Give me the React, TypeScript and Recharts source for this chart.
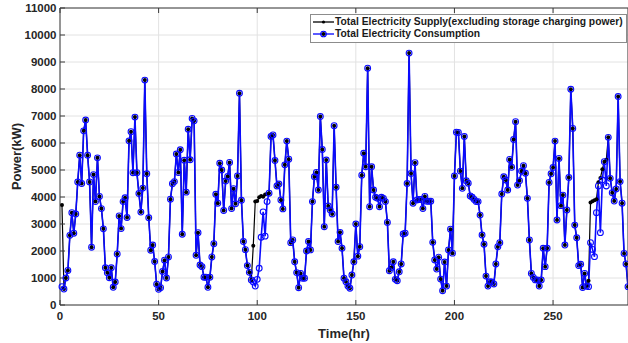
import { CartesianGrid, Line, LineChart, XAxis, YAxis } from 'recharts'

// hourly consumption, hour 1..288 (kW)
const consumption = [
  680, 590, 1000, 1280, 2580, 3420, 2660, 3370, 4560, 5550,
  4500, 6450, 6850, 5550, 4560, 2140, 4830, 3830, 5450, 4020,
  3570, 2820, 1380, 1190, 1010, 1380, 655, 850, 1890, 3300,
  2830, 3830, 3970, 3240, 6080, 6420, 4900, 6960, 4900, 4130,
  3440, 4330, 8330, 4860, 3230, 2030, 2220, 1610, 770, 580,
  640, 1240, 1660, 1000, 1780, 3920, 4490, 4570, 5590, 4910,
  5750, 2620, 5360, 4180, 6510, 5380, 6910, 6820, 1840, 2680,
  1480, 1420, 1030, 1030, 655, 1030, 1780, 2270, 4100, 3770,
  5250, 5000, 3500, 4590, 4760, 5280, 3570, 4310, 3750, 4780,
  7840, 3880, 2350, 2050, 1460, 1210, 930, 850, 700, 950,
  1360, 2510, 3450, 2550, 3830, 4140, 6240, 6300, 5350, 4410,
  4480, 3890, 3560, 5190, 6070, 5400, 2310, 2410, 1600, 1200,
  640, 1170, 990, 990, 2000, 2350, 2040, 3830, 4750, 4910,
  4260, 6980, 5760, 2900, 5370, 3670, 3520, 3370, 6640, 4360,
  2350, 2690, 2100, 990, 860, 700, 620, 1110, 1600, 3000,
  1810, 2160, 4810, 5620, 5120, 8770, 3640, 5120, 4260, 3990,
  3950, 3640, 3990, 3950, 3830, 3060, 1270, 1390, 1600, 950,
  900, 1230, 1520, 2630, 2660, 4500, 9330, 4870, 3770, 5270,
  3890, 3910, 3910, 3570, 4020, 3840, 3840, 3840, 2320, 1670,
  1330, 1770, 960, 530, 1590, 700, 2040, 2810, 1920, 4780,
  6400, 6390, 4960, 4320, 6240, 4600, 4510, 4040, 3990, 3910,
  3830, 3830, 3330, 2590, 2250, 1070, 700, 860, 850, 780,
  1520, 2160, 2310, 4110, 4750, 4630, 4260, 5390, 5100, 6130,
  6790, 4440, 4600, 4960, 5160, 4880, 3950, 2410, 1170, 1020,
  930, 930, 700, 930, 2100, 1420, 2100, 4540, 4860, 5090,
  6070, 3150, 5430, 3680, 4070, 2220, 3520, 4720, 7990, 6540,
  2960, 2490, 1460, 1510, 650, 1170, 700, 680, 2310, 2060,
  1790, 3420, 4410, 2680, 4630, 5310, 4410, 6210, 4690, 4160,
  3850, 4300, 7720, 4570, 3770, 1910, 1520, 680,
]

// hours where supply differs from consumption (storage charging)
const supplyOverrides: [number, number][] = [
  [1, 3700],
  [98, 2190], [99, 3830], [100, 3850], [101, 3990], [102, 4040],
  [103, 4010], [104, 4090], [105, 4110],
  [268, 900], [269, 3800], [270, 3840], [271, 3880], [272, 3920],
  [273, 4550], [274, 4700], [275, 5030], [277, 5380],
]

const xTicks = [0, 50, 100, 150, 200, 250]
const yTicks = [0, 1000, 2000, 3000, 4000, 5000, 6000, 7000, 8000, 9000, 10000, 11000]

const overrideMap = new Map(supplyOverrides)
const data = consumption.map((value, i) => ({
  hour: i + 1,
  consumption: value,
  supply: overrideMap.get(i + 1) ?? value,
}))

const font = '"Liberation Sans", Arial, sans-serif'
const axisColor = '#3a3a3a'
const tickStyle = { fontSize: 11.5, fontWeight: 700, fill: '#262626', fontFamily: font }
const titleStyle = { fontSize: 13, fontWeight: 700, fill: '#262626', fontFamily: font }
const blank = () => ''

function LegendSample({ color, hollow }: { color: string; hollow?: boolean }) {
  return (
    <svg width={21} height={10} style={{ display: 'block', marginRight: 1 }}>
      <line x1={0} y1={5} x2={21} y2={5} stroke={color} strokeWidth={1.3} />
      {hollow ? (
        <>
          <circle cx={10.5} cy={5} r={2} fill="#000" />
          <circle cx={10.5} cy={5} r={2.8} fill="none" stroke={color} strokeWidth={1.1} />
        </>
      ) : (
        <circle cx={10.5} cy={5} r={1.6} fill={color} />
      )}
    </svg>
  )
}

function ChartLegend() {
  const row = { display: 'flex', alignItems: 'center', height: 12 }
  return (
    <div
      style={{
        position: 'absolute',
        left: 310,
        top: 14,
        width: 313,
        height: 26,
        padding: '1px 0 0 2px',
        border: '1px solid #8c8c8c',
        background: '#fff',
        fontFamily: font,
        fontSize: 10.3,
        fontWeight: 700,
        color: '#1a1a1a',
        lineHeight: '12px',
        whiteSpace: 'nowrap',
      }}
    >
      <div style={row}>
        <LegendSample color="#000" />
        <span>Total Electricity Supply(excluding storage charging power)</span>
      </div>
      <div style={row}>
        <LegendSample color="#0000ff" hollow />
        <span>Total Electricity Consumption</span>
      </div>
    </div>
  )
}

export default function App() {
  return (
    <div style={{ position: 'absolute', left: 0, top: 0, width: 628, height: 343, background: '#fff' }}>
      <LineChart width={628} height={343} data={data} margin={{ top: 7, right: -1, bottom: 0, left: 0 }}>
        <CartesianGrid xAxisId="bottom" yAxisId="left" stroke="#e2e2e2" />
        <XAxis
          xAxisId="bottom"
          dataKey="hour"
          type="number"
          domain={[0, 288]}
          ticks={xTicks}
          height={38}
          tickSize={-5}
          tickMargin={12}
          stroke={axisColor}
          tick={tickStyle}
          label={{ value: 'Time(hr)', position: 'insideBottom', offset: 5, style: titleStyle }}
        />
        <XAxis
          xAxisId="top"
          orientation="top"
          dataKey="hour"
          type="number"
          domain={[0, 288]}
          ticks={xTicks}
          height={1}
          tickSize={-5}
          tickFormatter={blank}
          stroke={axisColor}
        />
        <YAxis
          yAxisId="left"
          domain={[0, 11000]}
          ticks={yTicks}
          width={60}
          tickSize={-5}
          tickMargin={8.5}
          stroke={axisColor}
          tick={tickStyle}
          label={{
            value: 'Power(kW)',
            angle: -90,
            position: 'insideLeft',
            offset: 16,
            style: { ...titleStyle, textAnchor: 'middle' },
          }}
        />
        <YAxis
          yAxisId="right"
          orientation="right"
          domain={[0, 11000]}
          ticks={yTicks}
          width={1}
          tickSize={-5}
          tickFormatter={blank}
          stroke={axisColor}
        />
        {/* supply first so the consumption circles sit on top of its dots */}
        <Line
          xAxisId="bottom"
          yAxisId="left"
          type="linear"
          dataKey="supply"
          stroke="#000"
          strokeWidth={1.2}
          dot={{ r: 2, fill: '#000', stroke: 'none' }}
          isAnimationActive={false}
        />
        <Line
          xAxisId="bottom"
          yAxisId="left"
          type="linear"
          dataKey="consumption"
          stroke="#0a0aff"
          strokeWidth={1.6}
          dot={{ r: 2.9, fill: 'none', stroke: '#0a0aff', strokeWidth: 1.1 }}
          isAnimationActive={false}
        />
      </LineChart>
      <ChartLegend />
    </div>
  )
}
